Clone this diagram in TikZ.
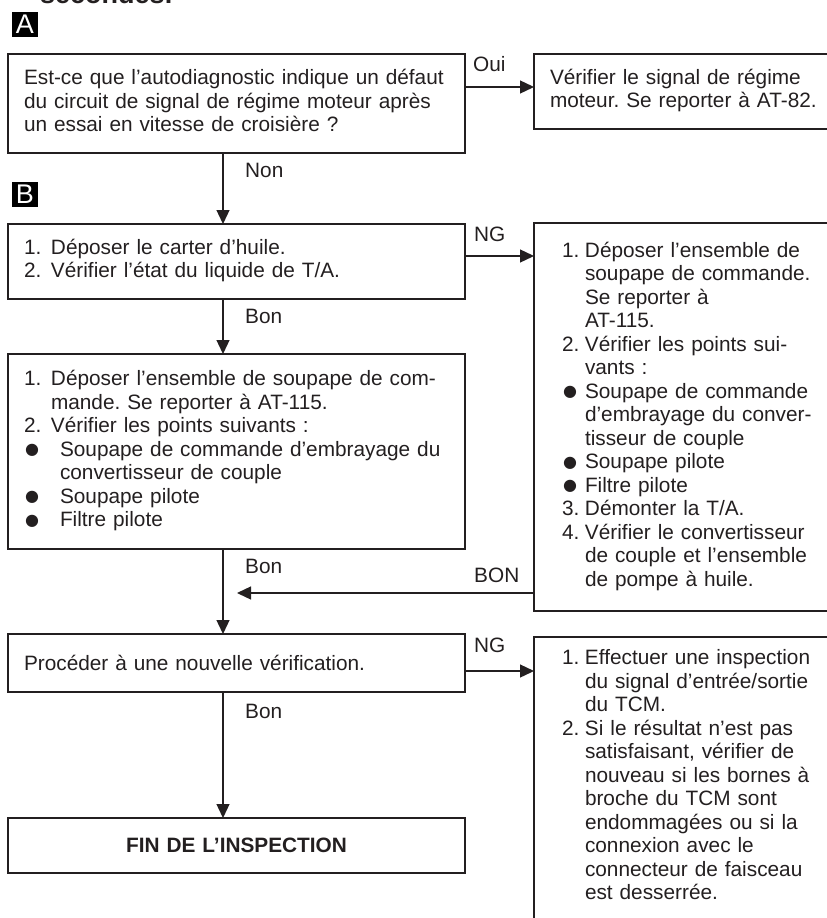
\documentclass[tikz,border=0pt]{standalone}
\usepackage{fontspec}
\setmainfont{Liberation Sans}
\newfontfamily\symfont{DejaVu Sans}
\usetikzlibrary{arrows.meta}
\definecolor{ink}{RGB}{35,31,32}
\frenchspacing
\newcommand{\blt}{\hspace*{1pt}\rlap{\raisebox{1.5pt}{\symfont\fontsize{16}{16}\selectfont ●}}}
\newcommand{\nb}[1]{\makebox[27pt][l]{#1}}
\newcommand{\ib}{\hspace*{27pt}}
\newcommand{\bb}{\makebox[36pt][l]{\blt}}
\newcommand{\jb}{\hspace*{36pt}}
\newcommand{\nr}[1]{\makebox[23pt][l]{#1}}
\newcommand{\ir}{\hspace*{23pt}}
\newcommand{\br}{\makebox[23pt][l]{\blt}}
\begin{document}
\begin{tikzpicture}[x=1pt,y=-1pt,
  txt/.style={text=ink, font=\fontsize{20.8}{23.5}\selectfont},
  box/.style={txt, draw=ink, line width=1.5pt, rectangle, outer sep=0pt,
    inner xsep=16pt, inner ysep=0pt, align=left, anchor=north west},
  lbl/.style={txt, anchor=west, inner sep=0pt},
  tag/.style={fill=black, text=white, minimum width=26pt, minimum height=25pt,
    inner sep=0pt, font=\fontsize{27}{27}\selectfont},
  arr/.style={draw=ink, line width=1.3pt, -{Triangle[length=14pt,width=13pt]}},
]
\useasboundingbox (0,0) rectangle (827,918);
\clip (0,0) rectangle (827,918);

\node[anchor=base west, inner sep=0pt, text=ink,
  font=\bfseries\fontsize{27}{27}\selectfont] (title) at (40,4) {secondes.};

\node[tag] (tagA) at (25,24.5) {A};
\node[tag] (tagB) at (25,194.5) {B};

% left column
\node[box, minimum width=457pt, minimum height=99pt, text width=425pt] (q1) at (8,54)
 {\begin{tabular}{@{}l@{}}
  Est-ce que l’autodiagnostic indique un défaut\\
  du circuit de signal de régime moteur après\\
  un essai en vitesse de croisière ?
  \end{tabular}};

\node[box, minimum width=457pt, minimum height=75pt, text width=425pt] (b1) at (8,224)
 {\begin{tabular}{@{}l@{}}
  \nb{1.}Déposer le carter d’huile.\\
  \nb{2.}Vérifier l’état du liquide de T/A.
  \end{tabular}};

\node[box, minimum width=457pt, minimum height=195pt, text width=425pt] (b2) at (8,354)
 {\begin{tabular}{@{}l@{}}
  \nb{1.}Déposer l’ensemble de soupape de com-\\
  \ib mande. Se reporter à AT-115.\\
  \nb{2.}Vérifier les points suivants :\\
  \bb Soupape de commande d’embrayage du\\
  \jb convertisseur de couple\\
  \bb Soupape pilote\\
  \bb Filtre pilote
  \end{tabular}};

\node[box, minimum width=457pt, minimum height=58pt, text width=425pt] (proc) at (8,634)
 {Procéder à une nouvelle vérification.};

\node[box, minimum width=457pt, minimum height=55pt, text width=425pt, align=center,
  font=\bfseries\fontsize{20.8}{23.5}\selectfont] (fin) at (8,818)
 {FIN DE L’INSPECTION};

% right column
\node[box, minimum width=340pt, minimum height=75pt, text width=308pt] (a1) at (534,54)
 {\begin{tabular}{@{}l@{}}
  Vérifier le signal de régime\\
  moteur. Se reporter à AT-82.
  \end{tabular}};

\node[box, inner xsep=28pt, minimum width=340pt, minimum height=388pt, text width=284pt] (r1) at (534,223)
 {\begin{tabular}{@{}l@{}}
  \nr{1.}Déposer l’ensemble de\\
  \ir soupape de commande.\\
  \ir Se reporter à\\
  \ir AT-115.\\
  \nr{2.}Vérifier les points sui-\\
  \ir vants :\\
  \br Soupape de commande\\
  \ir d’embrayage du conver-\\
  \ir tisseur de couple\\
  \br Soupape pilote\\
  \br Filtre pilote\\
  \nr{3.}Démonter la T/A.\\
  \nr{4.}Vérifier le convertisseur\\
  \ir de couple et l’ensemble\\
  \ir de pompe à huile.
  \end{tabular}};

\node[box, inner xsep=28pt, inner ysep=11.5pt, minimum width=340pt, text width=284pt] (r2) at (534,637)
 {\begin{tabular}{@{}l@{}}
  \nr{1.}Effectuer une inspection\\
  \ir du signal d’entrée/sortie\\
  \ir du TCM.\\
  \nr{2.}Si le résultat n’est pas\\
  \ir satisfaisant, vérifier de\\
  \ir nouveau si les bornes à\\
  \ir broche du TCM sont\\
  \ir endommagées ou si la\\
  \ir connexion avec le\\
  \ir connecteur de faisceau\\
  \ir est desserrée.\\
  \mbox{}
  \end{tabular}};

% connectors
\coordinate (vx) at (223,0);
\coordinate (youi) at (0,87);
\coordinate (yng1) at (0,256);
\coordinate (yng2) at (0,671);
\coordinate (bontip) at (237,593);

\draw[arr] (q1.south -| vx) -- (b1.north -| vx);
\draw[arr] (b1.south -| vx) -- (b2.north -| vx);
\draw[arr] (b2.south -| vx) -- (proc.north -| vx);
\draw[arr] (proc.south -| vx) -- (fin.north -| vx);
\draw[arr] (q1.east |- youi) -- (a1.west |- youi);
\draw[arr] (b1.east |- yng1) -- (r1.west |- yng1);
\draw[arr] (r1.west |- bontip) -- (bontip);
\draw[arr] (proc.east |- yng2) -- (r2.west |- yng2);

% labels
\node[lbl] (lOui) at (473,64.5) {Oui};
\node[lbl] (lNon) at (245,170) {Non};
\node[lbl] (lNG1) at (474,234) {NG};
\node[lbl] (lBon1) at (245,316) {Bon};
\node[lbl] (lBon2) at (245,566) {Bon};
\node[lbl] (lBON) at (474,575) {BON};
\node[lbl] (lNG2) at (474,645) {NG};
\node[lbl] (lBon3) at (245,711) {Bon};
\end{tikzpicture}
\end{document}
